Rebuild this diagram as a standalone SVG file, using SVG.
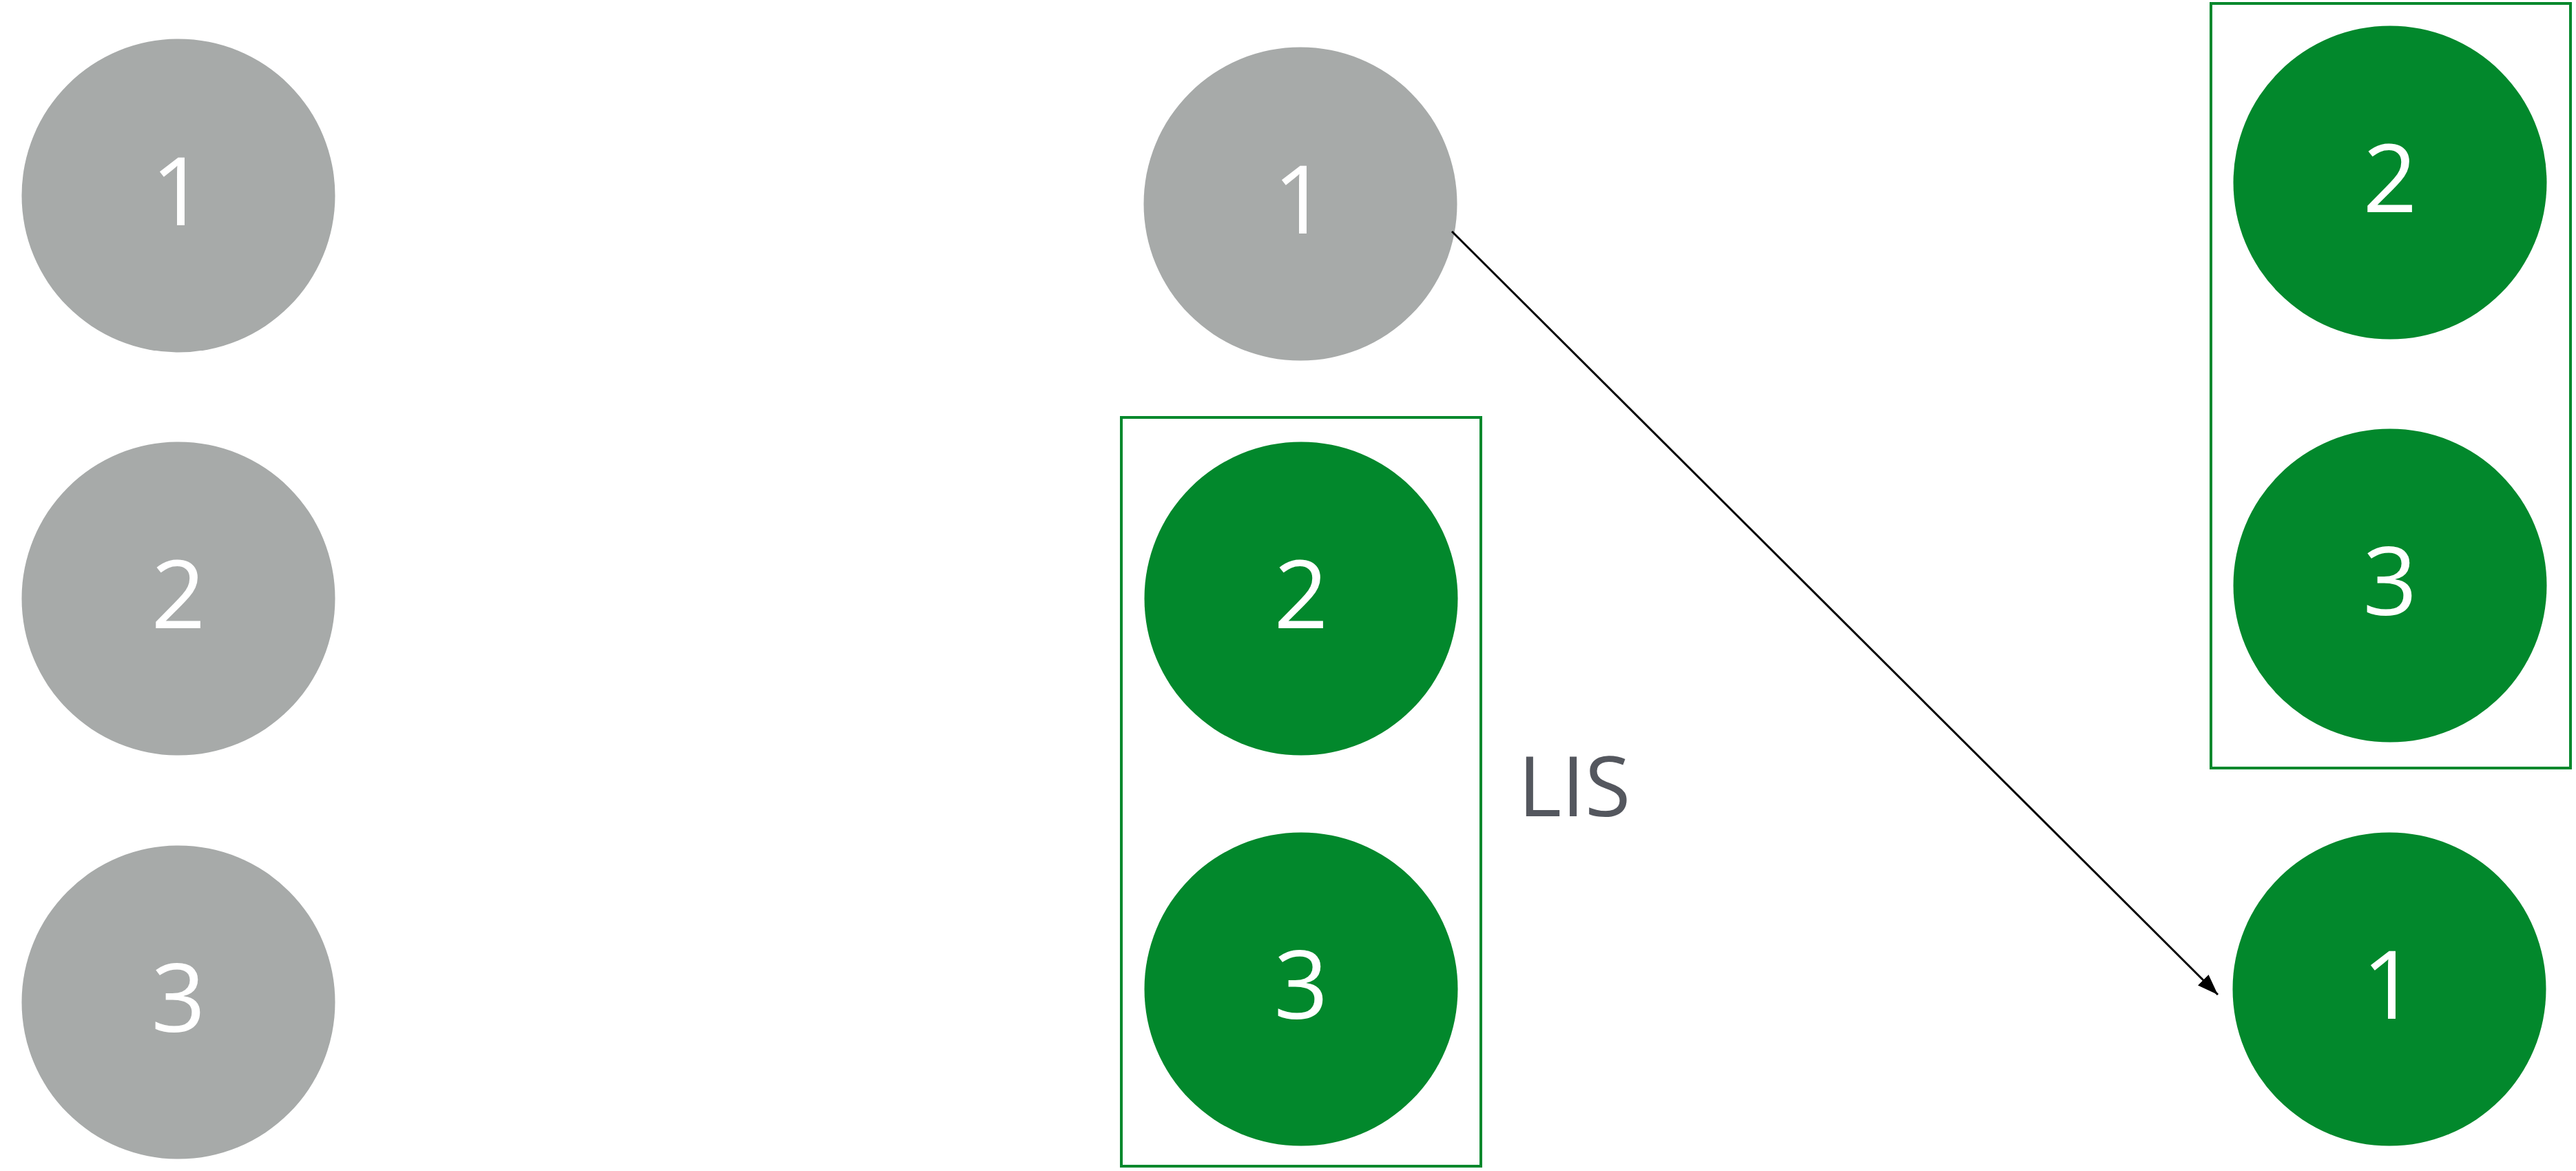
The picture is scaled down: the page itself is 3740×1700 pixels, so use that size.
<svg xmlns="http://www.w3.org/2000/svg" width="3740" height="1700" viewBox="0 0 3740 1700">
<style>
.gray{fill:#a7aaa9}
.green{fill:#02882c}
.lbl{font-family:"Open Sans","Liberation Sans",sans-serif;font-size:138px;fill:#ffffff;text-anchor:middle}
.box{fill:none;stroke:#02882c;stroke-width:4}
.edge{stroke:#000;stroke-width:3;fill:none}
.cap{font-family:"Open Sans","Liberation Sans",sans-serif;font-size:121px;fill:#54575e}
</style>
<defs>
<marker id="arr" markerUnits="userSpaceOnUse" markerWidth="30" markerHeight="22" refX="30" refY="11" orient="auto">
<path d="M0,0 L30,11 L0,22 z" fill="#000"/>
</marker>
</defs>
<rect width="3740" height="1700" fill="#fff"/>
<g id="cluster-mid"><rect class="box" x="1628" y="606" width="522" height="1087"/></g>
<g id="cluster-right"><rect class="box" x="3210" y="5" width="522" height="1110"/></g>
<g id="a1"><circle class="gray" cx="259" cy="284" r="227.5"/><text class="lbl" x="259" y="327">1</text></g>
<g id="a2"><circle class="gray" cx="259" cy="869" r="227.5"/><text class="lbl" x="259" y="912">2</text></g>
<g id="a3"><circle class="gray" cx="259" cy="1455" r="227.5"/><text class="lbl" x="259" y="1498">3</text></g>
<g id="b1"><circle class="gray" cx="1888" cy="296" r="227.5"/><text class="lbl" x="1888" y="339">1</text></g>
<g id="b2"><circle class="green" cx="1889" cy="869" r="227.5"/><text class="lbl" x="1889" y="912">2</text></g>
<g id="b3"><circle class="green" cx="1889" cy="1436" r="227.5"/><text class="lbl" x="1889" y="1479">3</text></g>
<g id="c2"><circle class="green" cx="3470" cy="265" r="227.5"/><text class="lbl" x="3470" y="308">2</text></g>
<g id="c3"><circle class="green" cx="3470" cy="850" r="227.5"/><text class="lbl" x="3470" y="893">3</text></g>
<g id="c1"><circle class="green" cx="3469" cy="1436" r="227.5"/><text class="lbl" x="3469" y="1479">1</text></g>
<g id="label-lis"><text class="cap" x="2204" y="1185">LIS</text></g>
<g id="connectors"><line class="edge" x1="2108" y1="336" x2="3220" y2="1444" marker-end="url(#arr)"/></g>
</svg>
